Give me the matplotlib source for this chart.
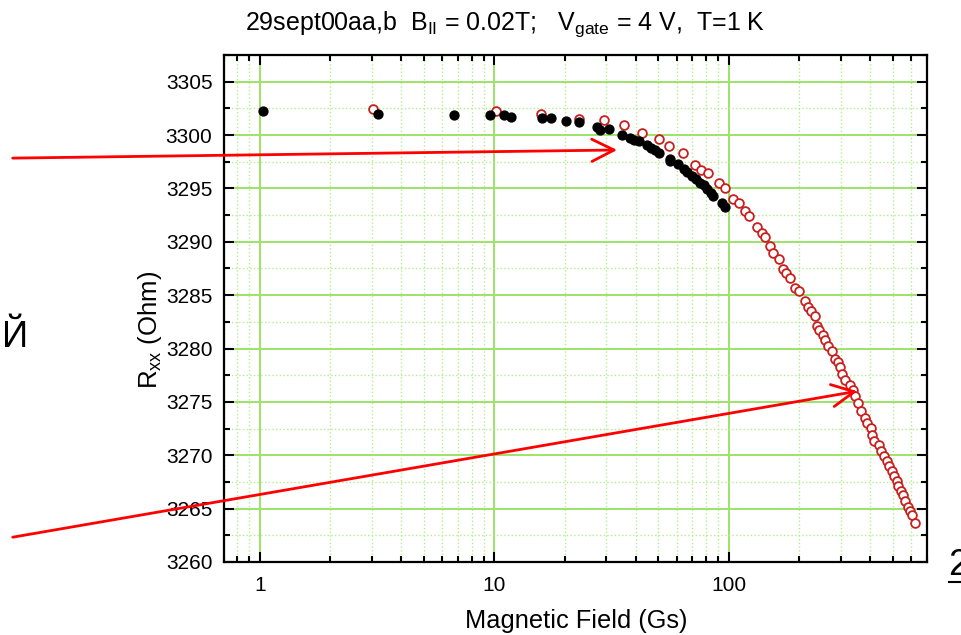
import numpy as np
import matplotlib
matplotlib.use('Agg')
import matplotlib.pyplot as plt
from matplotlib.lines import Line2D
from matplotlib.ticker import LogLocator, MultipleLocator, FixedLocator, FixedFormatter, NullFormatter

plt.rcParams['font.family'] = ['Liberation Sans', 'DejaVu Sans']
plt.rcParams['mathtext.fontset'] = 'custom'
plt.rcParams['mathtext.rm'] = 'Liberation Sans'
plt.rcParams['mathtext.it'] = 'Liberation Sans'

# black filled points
x_b = [1.03, 3.19, 6.76, 9.61, 11.0, 11.8, 16.0, 17.4, 20.3, 23.0,
       27.3, 28.1, 30.9, 35.2, 37.8, 39.4, 41.4, 44.9, 46.4, 48.4,
       50.4, 56.1, 56.4, 60.7, 64.3, 66.5, 69.9, 72.6, 75.1, 78.3,
       80.9, 83.6, 85.5, 93.1, 95.9]
y_b = [3302.24, 3301.93, 3301.87, 3301.87, 3301.87, 3301.7, 3301.56, 3301.6, 3301.3, 3301.25,
       3300.78, 3300.43, 3300.6, 3299.97, 3299.75, 3299.53, 3299.43, 3299.06, 3298.8, 3298.6,
       3298.35, 3297.78, 3297.56, 3297.25, 3296.84, 3296.53, 3296.2, 3295.85, 3295.53, 3295.28,
       3294.9, 3294.53, 3294.28, 3293.59, 3293.28]

# red open points
x_r = [3.03, 10.2, 15.8, 22.9, 29.4, 35.7, 42.8, 50.4, 55.6, 63.7,
       71.7, 76.2, 81.6, 90.6, 96.1, 104, 110, 117, 122, 132,
       138, 143, 150, 155, 163, 171, 175, 182, 192, 199,
       211, 217, 224, 232, 238, 243, 252, 256, 264, 275,
       283, 292, 297, 305, 314, 329, 338, 346, 357, 367,
       382, 390, 405, 407, 418, 435, 445, 460, 472, 483,
       496, 507, 520, 529, 541, 552, 565, 580, 593, 602, 623]
y_r = [3302.43, 3302.24, 3301.93, 3301.53, 3301.44, 3300.97, 3300.22, 3299.59, 3298.96, 3298.28,
       3297.18, 3296.71, 3296.4, 3295.53, 3295.06, 3293.97, 3293.59, 3292.93, 3292.4, 3291.37,
       3290.84, 3290.43, 3289.59, 3288.96, 3288.34, 3287.47, 3287.03, 3286.56, 3285.69, 3285.43,
       3284.43, 3283.9, 3283.5, 3283.03, 3282.15, 3281.71, 3281.31, 3280.78, 3280.28, 3279.75,
       3279.03, 3278.72, 3278.25, 3277.65, 3277.03, 3276.56, 3276.09, 3275.53, 3274.9, 3274.18,
       3273.5, 3273.03, 3272.56, 3271.93, 3271.31, 3270.93, 3270.37, 3269.9, 3269.5, 3268.96,
       3268.5, 3268.03, 3267.56, 3267.09, 3266.62, 3266.24, 3265.68, 3265.15, 3264.74, 3264.37, 3263.66]

x_ticks = [1, 10, 100]
x_ticklabels = ['1', '10', '100']
y_ticks = np.arange(3260, 3306, 5)

# points the arrows are aimed at
arrow_tips = [(33.4, 3298.6), (353, 3276.0)]

fig = plt.figure(figsize=(9.61, 6.35), dpi=100)
ax = fig.add_axes([0.2326, 0.1150, 0.7320, 0.7984])

ax.set_xscale('log')
ax.set_xlim(0.7, 700)
ax.set_ylim(3260, 3307.5)

ax.plot(x_r, y_r, 'o', ms=6.3, mfc='white', mec='#c8201e', mew=1.3, ls='none')
ax.plot(x_b, y_b, 'o', ms=6.4, mfc='black', mec='black', ls='none')

ax.xaxis.set_major_locator(FixedLocator(x_ticks))
ax.xaxis.set_major_formatter(FixedFormatter(x_ticklabels))
ax.xaxis.set_minor_locator(LogLocator(base=10, subs=np.arange(2, 10)))
ax.xaxis.set_minor_formatter(NullFormatter())
ax.set_yticks(y_ticks)
ax.yaxis.set_minor_locator(MultipleLocator(2.5))

ax.grid(which='major', color='#9ce468', lw=1.4, ls='-')
ax.grid(which='minor', color='#b6ec8e', lw=1.0, ls=':')
ax.set_axisbelow(True)

ax.tick_params(which='both', direction='in', top=True, right=True, width=1.5, labelsize=15)
ax.tick_params(which='major', length=7)
ax.tick_params(which='minor', length=4)
ax.tick_params(axis='x', pad=10)
ax.tick_params(axis='y', pad=8)
for s in ax.spines.values():
    s.set_linewidth(1.6)

fig.text(0.526, 0.962, r'29sept00aa,b  B$_{\rm II}$ = 0.02T;   V$_{\rm gate}$ = 4 V,  T=1 K',
         ha='center', va='center', fontsize=18)
fig.text(0.600, 0.022, 'Magnetic Field (Gs)', ha='center', va='center', fontsize=18.3)
fig.text(0.156, 0.480, r'R$_{\rm xx}$ (Ohm)', ha='center', va='center', rotation=90, fontsize=18.5)

fig.text(0.002, 0.468, 'Й', ha='left', va='center', fontsize=26)
fig.text(0.987, 0.110, '2', ha='left', va='center', fontsize=26)
fig.add_artist(Line2D([0.987, 1.0], [0.084, 0.084], color='black', lw=1.5))

arrow_starts = [(0.0132, 0.751), (0.0132, 0.154)]
for tip, start in zip(arrow_tips, arrow_starts):
    ax.annotate('', xy=tip, xycoords='data', xytext=start, textcoords='figure fraction',
                annotation_clip=False,
                arrowprops=dict(arrowstyle='->,head_length=0.8,head_width=0.4',
                                color='#ff0000', lw=2.0, mutation_scale=20,
                                shrinkA=0, shrinkB=0))

fig.savefig('out.png', dpi=100)
